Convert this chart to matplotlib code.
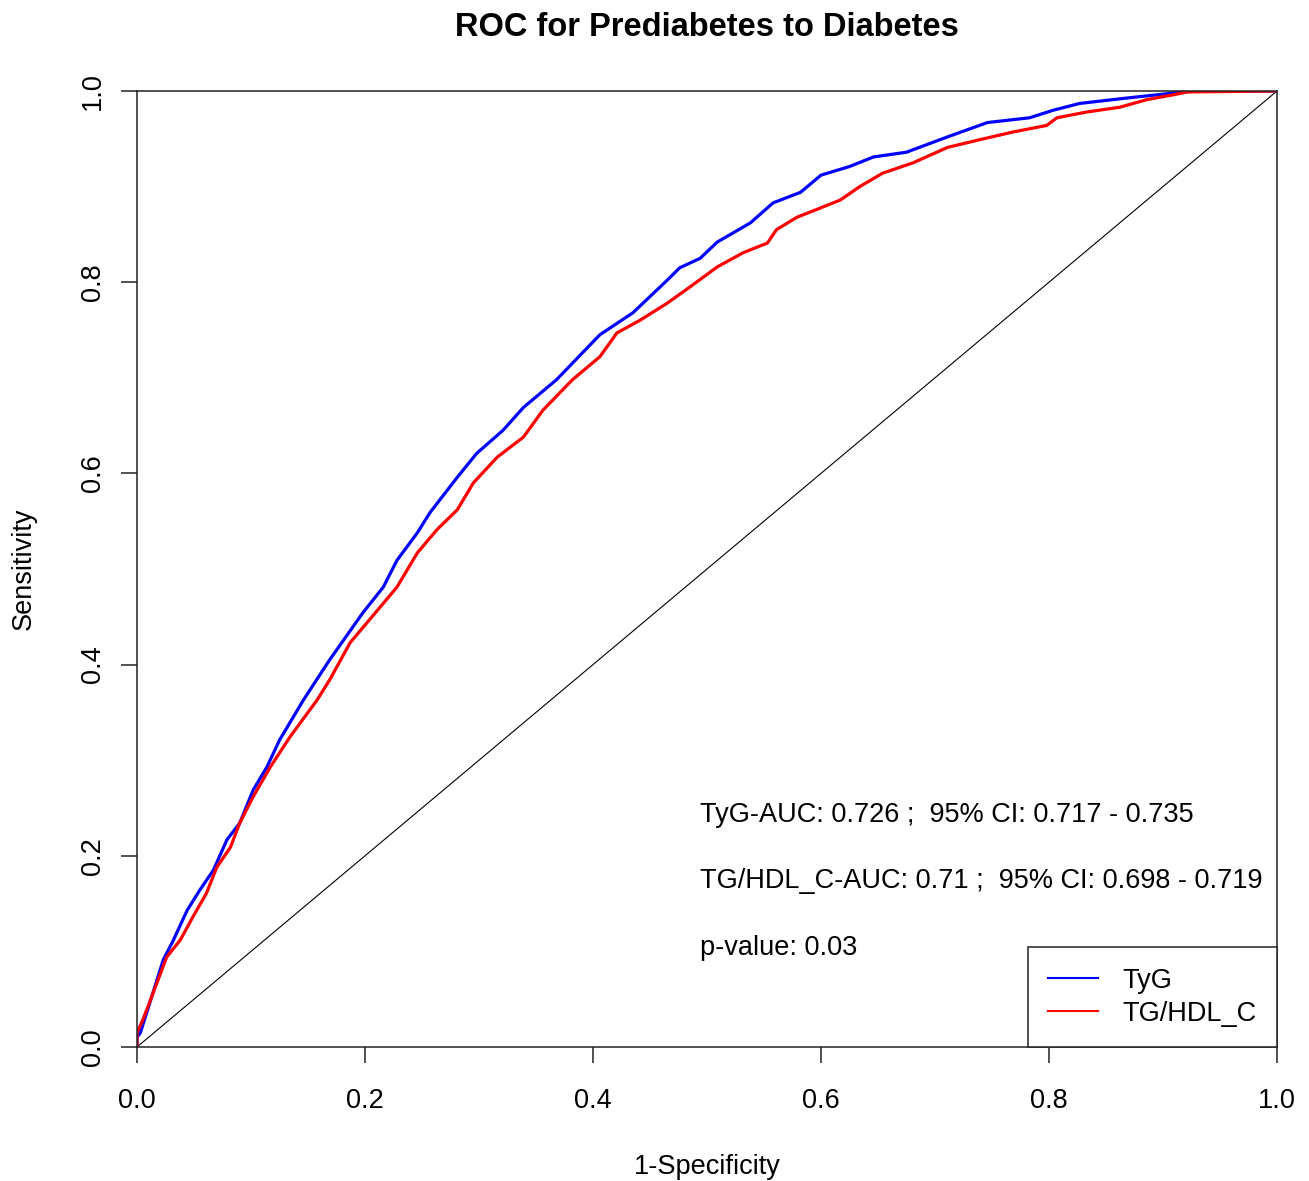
import numpy as np
import matplotlib
matplotlib.use('Agg')
import matplotlib.pyplot as plt

plt.rcParams['font.family'] = ['Liberation Sans', 'DejaVu Sans']

# 1-Specificity / Sensitivity
tyg_fpr = [0.0, 0.0, 0.003, 0.023, 0.032, 0.044, 0.055, 0.067, 0.079, 0.090, 0.102, 0.114, 0.125, 0.146,
           0.169, 0.198, 0.216, 0.228, 0.246, 0.257, 0.281, 0.298, 0.321, 0.339, 0.368, 0.406, 0.435,
           0.465, 0.476, 0.494, 0.509, 0.538, 0.558, 0.582, 0.600, 0.625, 0.646, 0.675, 0.711, 0.746,
           0.783, 0.804, 0.827, 0.871, 0.918, 0.930, 1.0]
tyg_tpr = [0.0, 0.010, 0.015, 0.091, 0.112, 0.143, 0.164, 0.185, 0.217, 0.234, 0.269, 0.293, 0.321, 0.363,
           0.405, 0.454, 0.481, 0.509, 0.538, 0.559, 0.596, 0.621, 0.645, 0.669, 0.698, 0.745, 0.768,
           0.802, 0.815, 0.825, 0.842, 0.862, 0.883, 0.894, 0.912, 0.921, 0.931, 0.936, 0.952, 0.967,
           0.972, 0.980, 0.987, 0.993, 0.999, 1.0, 1.0]

tg_fpr = [0.0, 0.0, 0.005, 0.014, 0.026, 0.038, 0.049, 0.061, 0.070, 0.082, 0.090, 0.102, 0.117, 0.134,
          0.158, 0.169, 0.187, 0.204, 0.228, 0.246, 0.263, 0.281, 0.295, 0.316, 0.339, 0.356, 0.382,
          0.406, 0.421, 0.441, 0.465, 0.485, 0.509, 0.532, 0.553, 0.561, 0.579, 0.596, 0.617, 0.634,
          0.654, 0.681, 0.711, 0.739, 0.768, 0.798, 0.807, 0.833, 0.862, 0.886, 0.909, 0.921, 1.0]
tg_tpr = [0.0, 0.015, 0.028, 0.056, 0.094, 0.112, 0.136, 0.161, 0.188, 0.209, 0.234, 0.262, 0.293, 0.324,
          0.363, 0.384, 0.423, 0.447, 0.481, 0.517, 0.541, 0.562, 0.590, 0.617, 0.638, 0.666, 0.698,
          0.722, 0.747, 0.760, 0.778, 0.795, 0.816, 0.831, 0.841, 0.855, 0.868, 0.876, 0.886, 0.900,
          0.914, 0.925, 0.941, 0.949, 0.957, 0.964, 0.972, 0.978, 0.983, 0.991, 0.996, 0.999, 1.0]

labels = ['TyG', 'TG/HDL_C']
notes = ['TyG-AUC: 0.726 ;  95% CI: 0.717 - 0.735',
         'TG/HDL_C-AUC: 0.71 ;  95% CI: 0.698 - 0.719',
         'p-value: 0.03']
ticks = [0.0, 0.2, 0.4, 0.6, 0.8, 1.0]

fs = 19.5
fig = plt.figure(figsize=(13.09, 11.81), dpi=100)
ax = fig.add_axes([137/1309, 1 - 1047/1181, 1140/1309, 956/1181])

ax.plot([0, 1], [0, 1], color='black', lw=0.8)
ax.plot(tyg_fpr, tyg_tpr, color='#0000ff', lw=2.3, label=labels[0])
ax.plot(tg_fpr, tg_tpr, color='#ff0000', lw=2.3, label=labels[1])

ax.set_xlim(0, 1)
ax.set_ylim(0, 1)
ax.set_xticks(ticks)
ax.set_yticks(ticks)
ax.set_xticklabels(['%.1f' % t for t in ticks])
ax.set_yticklabels(['%.1f' % t for t in ticks])
ax.tick_params(axis='both', direction='out', length=11.5, width=1.1, labelsize=fs, color='#222222')
ax.tick_params(axis='x', pad=18)
ax.tick_params(axis='y', pad=11)
plt.setp(ax.get_yticklabels(), rotation=90, va='center')
for s in ax.spines.values():
    s.set_linewidth(1.1)
    s.set_color('#222222')

ax.set_xlabel('1-Specificity', fontsize=fs, labelpad=29)
ax.set_ylabel('Sensitivity', fontsize=fs, labelpad=31)
ax.set_title('ROC for Prediabetes to Diabetes', fontsize=23.5, fontweight='bold', pad=39.5)

for t, yy in zip(notes, [0.243, 0.174, 0.104]):
    ax.text(0.494, yy, t, fontsize=fs, va='center', ha='left')

leg = ax.legend(loc='lower right', fontsize=fs, frameon=True, fancybox=False, borderaxespad=0,
                handlelength=1.85, handletextpad=0.9, labelspacing=0.26, borderpad=0.75,
                framealpha=1)
leg.get_frame().set_edgecolor('#222222')
leg.get_frame().set_linewidth(1.1)
for h in leg.get_lines():
    h.set_linewidth(1.5)

fig.savefig('out.png', dpi=100)
